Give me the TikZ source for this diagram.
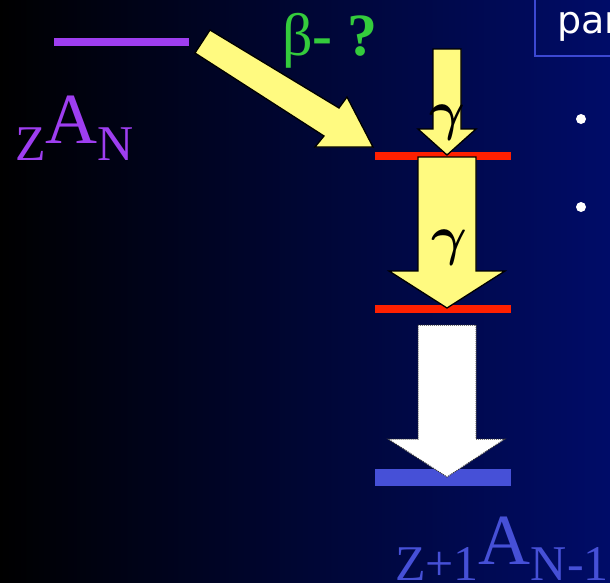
\documentclass[tikz,border=0pt]{standalone}
\usepackage{fontspec}
\setmainfont{Liberation Serif}
\newfontfamily\boxfont{DejaVu Sans}
\definecolor{bgright}{RGB}{0,12,104}
\definecolor{purp}{RGB}{158,62,240}
\definecolor{grn}{RGB}{52,204,60}
\definecolor{yel}{RGB}{255,250,128}
\definecolor{redl}{RGB}{255,32,0}
\definecolor{bluel}{RGB}{70,80,215}
\definecolor{boxblue}{RGB}{60,72,210}
\tikzset{
  blockarrow/.style={fill=yel, draw=black, line width=1.3pt, line join=miter},
  whitearrow/.style={fill=white, draw=black!80, line width=1pt, densely dotted},
  levelbar/.style={rectangle, inner sep=0pt, minimum width=136pt},
  gam/.style={inner sep=0pt},
}
\begin{document}
\begin{tikzpicture}[x=1pt,y=-1pt]
\useasboundingbox (0,0) rectangle (610,582);
\clip (0,0) rectangle (610,582);
\shade[left color=black, right color=bgright] (0,0) rectangle (610,582);

% top-right box
\draw[boxblue, line width=1.6pt] (535,-10) rectangle (640,56);
\node[anchor=base west, inner sep=0pt, text=white, font=\boxfont\fontsize{38}{38}\selectfont] (par) at (557,33) {par};
\fill[white] (581,119) circle (5);
\fill[white] (581,207) circle (5);

% initial level and label
\fill[purp] (54,38) rectangle (189,46);
\node[anchor=base west, inner sep=0pt, text=purp, font=\fontsize{50}{50}\selectfont] (za) at (15,160) {Z\raisebox{17pt}{\fontsize{72}{72}\selectfont A}N};

% beta label
\node[anchor=base west, inner sep=0pt, text=grn, font=\fontsize{60}{60}\selectfont] (beta) at (282,55) {β\textbf{- ?}};

% levels
\node[levelbar, fill=redl, minimum height=8pt] (l1) at (443,156) {};
\node[levelbar, fill=redl, minimum height=8pt] (l2) at (443,309) {};
\node[levelbar, fill=bluel, minimum height=17pt] (l3) at (443,477.5) {};

% diagonal beta arrow
\draw[blockarrow] (210,30) -- (339,108) -- (347,97) -- (373,147) -- (315,147) -- (324,136) -- (195,53) -- cycle;

% gamma arrows
\draw[blockarrow] (433,49) -- (461,49) -- (461,129) -- (476,129) -- (447,155) -- (418,129) -- (433,129) -- cycle;
\draw[blockarrow] (418,157) -- (476,157) -- (476,271) -- (505,271) -- (447,308) -- (389,271) -- (418,271) -- cycle;
\node[gam] (g1) at (447,123) {\scalebox{5.5}{\boldmath$\gamma$}};
\node[gam] (g2) at (449,248) {\scalebox{5.5}{\boldmath$\gamma$}};

% white arrow
\draw[whitearrow] (418,325) -- (476,325) -- (476,439) -- (505,439) -- (447,477) -- (388,439) -- (418,439) -- cycle;

% final label
\node[anchor=base west, inner sep=0pt, text=bluel, font=\fontsize{50}{50}\selectfont] (zb) at (395,580) {Z+1\raisebox{16pt}{\fontsize{72}{72}\selectfont A}N-1};
\end{tikzpicture}
\end{document}
